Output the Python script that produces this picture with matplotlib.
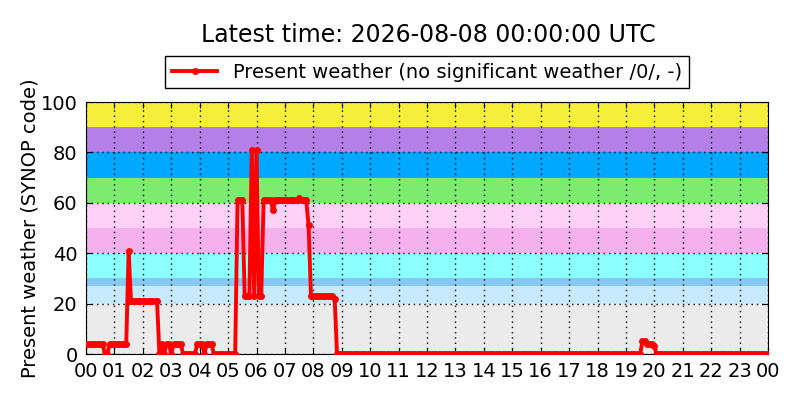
import numpy as np
import matplotlib
matplotlib.use("Agg")
import matplotlib.pyplot as plt

# present weather code, 5 minute steps from 00:00 to 24:00 (one row per hour)
present_weather = [
    4, 4, 4, 4, 4, 4, 4, 4, 0, 0, 4, 4,               # 00
    4, 4, 4, 4, 4, 4, 41, 21, 21, 21, 21, 21,         # 01
    21, 21, 21, 21, 21, 21, 21, 0, 4, 0, 4, 4,        # 02
    0, 4, 4, 4, 4, 0, 0, 0, 0, 0, 0, 4,               # 03
    4, 4, 0, 4, 4, 4, 0, 0, 0, 0, 0, 0,               # 04
    0, 0, 0, 0, 61, 61, 61, 23, 23, 23, 81, 23,       # 05
    81, 23, 23, 61, 61, 61, 61, 57, 61, 61, 61, 61,   # 06
    61, 61, 61, 61, 61, 61, 62, 61, 61, 61, 51, 23,   # 07
    23, 23, 23, 23, 23, 23, 23, 23, 23, 22, 0, 0,     # 08
    0, 0, 0, 0, 0, 0, 0, 0, 0, 0, 0, 0,               # 09
    0, 0, 0, 0, 0, 0, 0, 0, 0, 0, 0, 0,               # 10
    0, 0, 0, 0, 0, 0, 0, 0, 0, 0, 0, 0,               # 11
    0, 0, 0, 0, 0, 0, 0, 0, 0, 0, 0, 0,               # 12
    0, 0, 0, 0, 0, 0, 0, 0, 0, 0, 0, 0,               # 13
    0, 0, 0, 0, 0, 0, 0, 0, 0, 0, 0, 0,               # 14
    0, 0, 0, 0, 0, 0, 0, 0, 0, 0, 0, 0,               # 15
    0, 0, 0, 0, 0, 0, 0, 0, 0, 0, 0, 0,               # 16
    0, 0, 0, 0, 0, 0, 0, 0, 0, 0, 0, 0,               # 17
    0, 0, 0, 0, 0, 0, 0, 0, 0, 0, 0, 0,               # 18
    0, 0, 0, 0, 0, 0, 0, 5, 5, 4, 4, 4,               # 19
    3, 0, 0, 0, 0, 0, 0, 0, 0, 0, 0, 0,               # 20
    0, 0, 0, 0, 0, 0, 0, 0, 0, 0, 0, 0,               # 21
    0, 0, 0, 0, 0, 0, 0, 0, 0, 0, 0, 0,               # 22
    0, 0, 0, 0, 0, 0, 0, 0, 0, 0, 0, 0,               # 23
    0,
]
hours = np.arange(len(present_weather)) * 5 / 60.0

# background bands for the SYNOP code groups
band_edges = [0, 20, 27, 30, 40, 50, 60, 70, 80, 90, 100]
band_colors = ["#ebebeb", "#c6e9fc", "#88c8f4", "#8cffff", "#f5b0ee",
               "#ffd0f8", "#7deb6f", "#00a8ff", "#b57fe8", "#f5ef3c"]

hour_ticks = list(range(0, 25))
hour_labels = ["%02d" % (h % 24) for h in hour_ticks]

title = "Latest time: 2026-08-08 00:00:00 UTC"
series_label = "Present weather (no significant weather /0/, -)"


def main():
    fig = plt.figure(figsize=(8, 4), dpi=100, facecolor="white")
    ax = fig.add_axes([0.1075, 0.115, 0.8525, 0.63])

    for lo, hi, col in zip(band_edges[:-1], band_edges[1:], band_colors):
        ax.axhspan(lo, hi, color=col, lw=0, zorder=0)

    ax.plot(hours, present_weather, color="red", lw=2.8, marker="o",
            ms=5, mew=0, label=series_label, zorder=3)

    ax.set_xlim(0, 24)
    ax.set_ylim(0, 100)
    ax.set_xticks(hour_ticks)
    ax.set_xticklabels(hour_labels)
    ax.set_yticks(range(0, 101, 20))
    ax.tick_params(direction="in", top=True, right=True, labelsize=14,
                   length=4, pad=6)
    ax.grid(True, color="black", linestyle=(0, (1, 2.8)), lw=1)
    ax.set_ylabel("Present weather (SYNOP code)", fontsize=14, labelpad=1)

    fig.text(0.535, 0.912, title, fontsize=17, ha="center", va="center")
    ax.legend(loc="center", bbox_to_anchor=(0.5, 1.119), fontsize=14,
              numpoints=1, fancybox=False, framealpha=1, edgecolor="black",
              handlelength=2.3, borderpad=0.35)

    fig.savefig("out.png", dpi=100, facecolor="white")


if __name__ == "__main__":
    main()
